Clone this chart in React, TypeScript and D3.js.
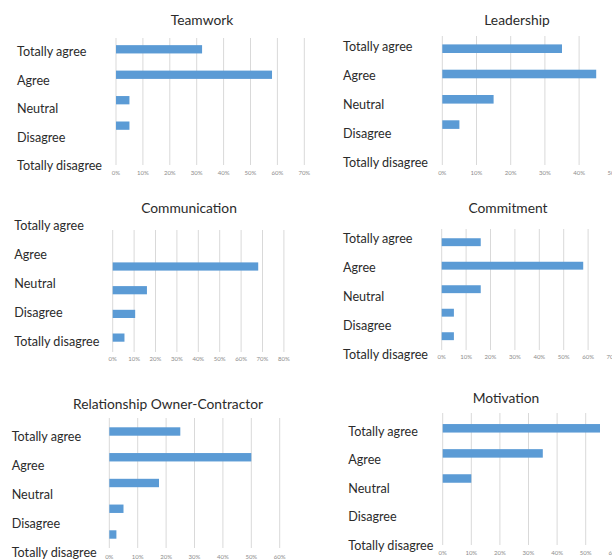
import React from "react";
import * as d3 from "d3";

// ---------- data ----------
const categories = ["Totally agree", "Agree", "Neutral", "Disagree", "Totally disagree"];
const panelTitles = ["Teamwork", "Leadership", "Communication", "Commitment", "Relationship Owner-Contractor", "Motivation"];
const teamworkValues = [32, 58, 5, 5, 0];
const leadershipValues = [35, 45, 15, 5, 0];
const communicationValues = [0, 68, 16, 10.5, 5.5];
const commitmentValues = [16, 58, 16, 5, 5];
const relationshipValues = [25, 50, 17.5, 5, 2.5];
const motivationValues = [55, 35, 10, 0, 0];
const axisMaxes = [70, 50, 80, 70, 60, 60];
const tickStep = 10;

const panelValues = [teamworkValues, leadershipValues, communicationValues, commitmentValues, relationshipValues, motivationValues];

// ---------- layout (positions only) ----------
type Layout = {
  titleX: number; titleY: number;
  labelX: number; labelY0: number; labelY1: number;
  x0: number; pxPer10: number;
  barC0: number; barStep: number; barH: number;
  gridTop: number; gridBottom: number; tickY: number;
};
const layouts: Layout[] = [
  { titleX: 202, titleY: 19, labelX: 17, labelY0: 51.5, labelY1: 165.5, x0: 116, pxPer10: 26.9, barC0: 49.3, barStep: 25.45, barH: 8.3, gridTop: 38, gridBottom: 165, tickY: 172.5 },
  { titleX: 517, titleY: 19, labelX: 343, labelY0: 46.5, labelY1: 162.5, x0: 442.3, pxPer10: 34.2, barC0: 48.7, barStep: 25.3, barH: 8.6, gridTop: 36, gridBottom: 165, tickY: 172 },
  { titleX: 189, titleY: 207, labelX: 14.3, labelY0: 225.5, labelY1: 341.5, x0: 112.7, pxPer10: 21.4, barC0: 242.8, barStep: 23.7, barH: 8.2, gridTop: 230, gridBottom: 352, tickY: 358 },
  { titleX: 508, titleY: 207, labelX: 343, labelY0: 238.8, labelY1: 354.5, x0: 441.7, pxPer10: 24.4, barC0: 242.2, barStep: 23.5, barH: 7.9, gridTop: 229, gridBottom: 350, tickY: 356 },
  { titleX: 168, titleY: 403, labelX: 11.7, labelY0: 436.2, labelY1: 552.2, x0: 109.3, pxPer10: 28.4, barC0: 431.5, barStep: 25.75, barH: 8.4, gridTop: 418, gridBottom: 548, tickY: 556 },
  { titleX: 506, titleY: 397, labelX: 348.3, labelY0: 431.2, labelY1: 545.2, x0: 442.7, pxPer10: 28.6, barC0: 428.3, barStep: 25.1, barH: 8.5, gridTop: 413, gridBottom: 545, tickY: 552 },
];

const BAR = "#5B9BD5";
const GRID = "#D9D9D9";
const TEXT = "#2B2B2B";
const TICK = "#8C8C8C";
const FONT = "Lato, 'Open Sans', sans-serif";

function Panel({ idx }: { idx: number }) {
  const L = layouts[idx];
  const values = panelValues[idx];
  const max = axisMaxes[idx];
  const x = d3.scaleLinear().domain([0, max]).range([L.x0, L.x0 + (L.pxPer10 * max) / tickStep]);
  const pad = 1 - L.barH / L.barStep;
  const yBar = d3
    .scaleBand<string>()
    .domain(categories)
    .range([L.barC0 - L.barStep / 2, L.barC0 - L.barStep / 2 + L.barStep * categories.length])
    .paddingInner(pad)
    .paddingOuter(pad / 2);
  const yLabel = d3.scalePoint<string>().domain(categories).range([L.labelY0, L.labelY1]);
  const ticks = d3.range(0, max + tickStep / 2, tickStep);
  return (
    <g>
      <text x={L.titleX} y={L.titleY} textAnchor="middle" dominantBaseline="central" fontSize={13.8} fill={TEXT} fontFamily={FONT}>
        {panelTitles[idx]}
      </text>
      {ticks.map((t) => (
        <line key={"g" + t} x1={x(t)} x2={x(t)} y1={L.gridTop} y2={L.gridBottom} stroke={GRID} strokeWidth={1} />
      ))}
      {categories.map((c, i) =>
        values[i] > 0 ? (
          <rect key={"b" + c} x={x(0)} y={yBar(c)!} width={x(values[i]) - x(0)} height={yBar.bandwidth()} fill={BAR} />
        ) : null
      )}
      {categories.map((c) => (
        <text key={"l" + c} x={L.labelX} y={yLabel(c)!} dominantBaseline="central" fontSize={12.6} fill={TEXT} fontFamily={FONT}>
          {c}
        </text>
      ))}
      {ticks.map((t) => (
        <text key={"t" + t} x={x(t)} y={L.tickY} textAnchor="middle" dominantBaseline="central" fontSize={6} fill={TICK} fontFamily={FONT}>
          {t + "%"}
        </text>
      ))}
    </g>
  );
}

export default function App() {
  return (
    <svg width={612} height={559} style={{ position: "absolute", left: 0, top: 0, background: "#fff" }}>
      <rect width={612} height={559} fill="#fff" />
      {layouts.map((_, i) => (
        <Panel key={i} idx={i} />
      ))}
    </svg>
  );
}
